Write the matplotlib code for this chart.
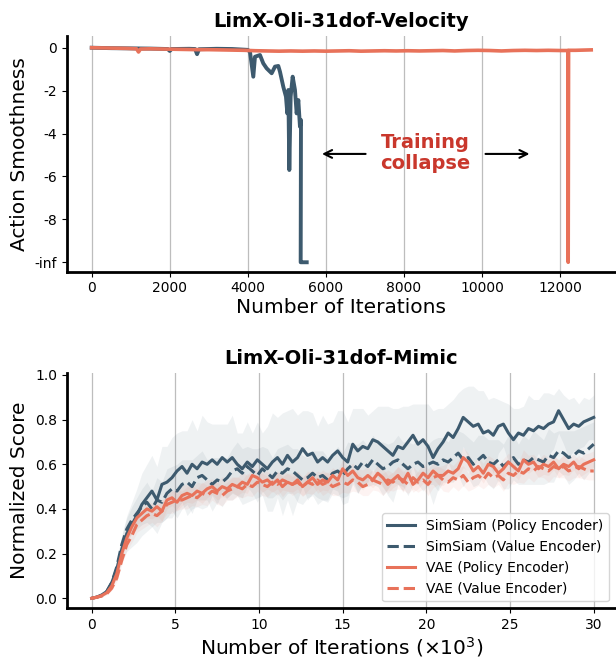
import numpy as np
import matplotlib
matplotlib.use("Agg")
import matplotlib.pyplot as plt

# colours
BLUE = "#3d5a6e"
ORANGE = "#e8725a"
RED_TXT = "#c9372c"

# ---- top panel: action smoothness (velocity task) ----
vel_ss_x = [0, 500, 1000, 1500, 1950, 2000, 2050, 2500, 2650, 2700, 2750, 3200, 3600, 4000,
            4056, 4141, 4184, 4312, 4397, 4483, 4612, 4697, 4782, 4825, 4910, 4978, 5013,
            5039, 5064, 5098, 5150, 5209, 5252, 5295, 5337, 5363, 5355, 5360, 5510]
vel_ss_y = [0.0, -0.02, -0.03, -0.04, -0.06, -0.15, -0.06, -0.05, -0.06, -0.3, -0.07, -0.05, -0.06, -0.1,
            -0.19, -1.35, -0.42, -0.34, -0.73, -0.96, -1.19, -0.88, -0.85, -1.12, -1.82, -2.28, -3.06,
            -1.97, -5.70, -2.28, -1.35, -1.97, -3.06, -2.44, -3.68, -3.37, -10, -10, -10]

vel_vae_x = [0, 300, 600, 900, 1150, 1200, 1250, 1500, 1800, 2100, 2400, 2700, 3000, 3300, 3600, 3900,
             4200, 4500, 4800, 5100, 5400, 5700, 6000, 6300, 6600, 6900, 7200, 7500, 7800, 8100,
             8400, 8700, 9000, 9300, 9600, 9900, 10200, 10500, 10800, 11100, 11400, 11700, 12000,
             12200, 12210, 12220, 12400, 12600, 12800]
vel_vae_y = [0.0, -0.01, -0.02, -0.03, -0.05, -0.2, -0.06, -0.05, -0.06, -0.07, -0.08, -0.09, -0.09, -0.1, -0.11, -0.12,
             -0.14, -0.15, -0.16, -0.15, -0.16, -0.15, -0.16, -0.15, -0.14, -0.16, -0.15, -0.14, -0.15, -0.14,
             -0.15, -0.14, -0.13, -0.15, -0.13, -0.12, -0.13, -0.15, -0.13, -0.12, -0.13, -0.12, -0.13,
             -0.13, -10, -0.12, -0.12, -0.11, -0.1]

vel_yticks = [0, -2, -4, -6, -8, -10]
vel_yticklabels = ["0", "-2", "-4", "-6", "-8", "-inf"]

# ---- bottom panel: normalized score (mimic task), iterations in 1e3 ----
iters = np.arange(101) * 0.3

ss_pol = [0.00, 0.005, 0.015, 0.03, 0.07, 0.13, 0.22, 0.29, 0.33, 0.37,
          0.42, 0.45, 0.48, 0.44, 0.51, 0.52, 0.54, 0.57, 0.59, 0.56,
          0.60, 0.58, 0.61, 0.60, 0.62, 0.60, 0.63, 0.61, 0.63, 0.60,
          0.58, 0.61, 0.59, 0.62, 0.60, 0.58, 0.61, 0.63, 0.60, 0.64,
          0.61, 0.63, 0.67, 0.64, 0.65, 0.61, 0.63, 0.61, 0.64, 0.66,
          0.63, 0.61, 0.69, 0.66, 0.68, 0.67, 0.71, 0.70, 0.68, 0.66,
          0.64, 0.68, 0.67, 0.70, 0.73, 0.69, 0.71, 0.68, 0.63, 0.67,
          0.70, 0.74, 0.72, 0.76, 0.81, 0.79, 0.77, 0.78, 0.74, 0.75,
          0.73, 0.77, 0.78, 0.74, 0.71, 0.74, 0.73, 0.76, 0.75, 0.77,
          0.76, 0.78, 0.79, 0.84, 0.80, 0.76, 0.78, 0.77, 0.79, 0.80, 0.81]
ss_val = [0.00, 0.005, 0.012, 0.03, 0.07, 0.14, 0.24, 0.31, 0.35, 0.38,
          0.41, 0.43, 0.40, 0.44, 0.43, 0.47, 0.49, 0.48, 0.51, 0.52,
          0.50, 0.54, 0.55, 0.53, 0.51, 0.53, 0.52, 0.54, 0.57, 0.58,
          0.56, 0.59, 0.57, 0.55, 0.58, 0.56, 0.54, 0.57, 0.56, 0.58,
          0.57, 0.55, 0.53, 0.54, 0.56, 0.54, 0.55, 0.53, 0.56, 0.57,
          0.55, 0.58, 0.60, 0.58, 0.61, 0.59, 0.62, 0.60, 0.58, 0.59,
          0.61, 0.62, 0.60, 0.58, 0.60, 0.61, 0.59, 0.60, 0.61, 0.60,
          0.62, 0.61, 0.63, 0.65, 0.62, 0.63, 0.60, 0.62, 0.64, 0.61,
          0.60, 0.62, 0.59, 0.61, 0.63, 0.60, 0.62, 0.61, 0.63, 0.62,
          0.61, 0.64, 0.63, 0.66, 0.65, 0.63, 0.64, 0.66, 0.65, 0.67, 0.69]
vae_pol = [0.00, 0.005, 0.012, 0.025, 0.055, 0.11, 0.20, 0.27, 0.32, 0.36,
           0.38, 0.40, 0.39, 0.41, 0.39, 0.44, 0.45, 0.43, 0.46, 0.47,
           0.46, 0.48, 0.47, 0.49, 0.50, 0.48, 0.50, 0.49, 0.51, 0.50,
           0.52, 0.51, 0.55, 0.54, 0.52, 0.53, 0.51, 0.53, 0.50, 0.52,
           0.51, 0.53, 0.50, 0.52, 0.54, 0.51, 0.53, 0.52, 0.55, 0.53,
           0.58, 0.55, 0.57, 0.54, 0.53, 0.55, 0.53, 0.56, 0.54, 0.51,
           0.53, 0.55, 0.52, 0.56, 0.51, 0.53, 0.56, 0.54, 0.57, 0.55,
           0.55, 0.57, 0.56, 0.58, 0.63, 0.61, 0.57, 0.59, 0.56, 0.60,
           0.59, 0.56, 0.58, 0.61, 0.59, 0.57, 0.62, 0.60, 0.61, 0.58,
           0.60, 0.59, 0.61, 0.58, 0.60, 0.59, 0.61, 0.58, 0.60, 0.61, 0.62]
vae_val = [0.00, 0.004, 0.01, 0.02, 0.045, 0.09, 0.17, 0.24, 0.28, 0.33,
           0.35, 0.37, 0.38, 0.37, 0.39, 0.42, 0.43, 0.44, 0.44, 0.45,
           0.46, 0.45, 0.47, 0.46, 0.48, 0.47, 0.46, 0.48, 0.49, 0.50,
           0.49, 0.51, 0.50, 0.52, 0.51, 0.50, 0.52, 0.51, 0.53, 0.52,
           0.51, 0.52, 0.50, 0.52, 0.51, 0.53, 0.51, 0.52, 0.50, 0.51,
           0.52, 0.51, 0.53, 0.52, 0.50, 0.51, 0.53, 0.52, 0.51, 0.53,
           0.52, 0.54, 0.53, 0.51, 0.54, 0.52, 0.53, 0.51, 0.54, 0.55,
           0.53, 0.52, 0.54, 0.53, 0.55, 0.52, 0.54, 0.55, 0.53, 0.56,
           0.54, 0.55, 0.53, 0.56, 0.55, 0.57, 0.56, 0.58, 0.57, 0.59,
           0.58, 0.57, 0.59, 0.58, 0.59, 0.57, 0.58, 0.59, 0.58, 0.57, 0.57]

# band half-widths
ss_pol_sd = [0.0, 0.003, 0.006, 0.01, 0.02, 0.04, 0.06, 0.08, 0.10, 0.12,
             0.14, 0.15, 0.16, 0.15, 0.17, 0.16, 0.18, 0.17, 0.16, 0.19,
             0.20, 0.17, 0.21, 0.19, 0.16, 0.18, 0.15, 0.17, 0.19, 0.14,
             0.16, 0.18, 0.15, 0.17, 0.14, 0.19, 0.22, 0.18, 0.23, 0.20,
             0.24, 0.19, 0.17, 0.20, 0.18, 0.16, 0.19, 0.17, 0.15, 0.18,
             0.21, 0.18, 0.16, 0.19, 0.17, 0.15, 0.13, 0.16, 0.18, 0.20,
             0.21, 0.17, 0.19, 0.16, 0.14, 0.18, 0.16, 0.19, 0.21, 0.18,
             0.15, 0.13, 0.17, 0.16, 0.13, 0.16, 0.18, 0.15, 0.19, 0.14,
             0.17, 0.12, 0.10, 0.13, 0.14, 0.11, 0.13, 0.15, 0.14, 0.12,
             0.16, 0.14, 0.12, 0.10, 0.11, 0.13, 0.12, 0.10, 0.11, 0.09, 0.10]
ss_val_sd = [0.0, 0.003, 0.005, 0.01, 0.02, 0.03, 0.04, 0.05, 0.06, 0.07,
             0.08, 0.09, 0.08, 0.10, 0.09, 0.11, 0.10, 0.12, 0.11, 0.10,
             0.12, 0.10, 0.11, 0.09, 0.12, 0.10, 0.11, 0.09, 0.10, 0.12,
             0.11, 0.09, 0.10, 0.12, 0.10, 0.11, 0.09, 0.10, 0.12, 0.11,
             0.10, 0.12, 0.11, 0.09, 0.10, 0.12, 0.11, 0.10, 0.09, 0.11,
             0.10, 0.12, 0.09, 0.11, 0.10, 0.09, 0.11, 0.10, 0.12, 0.10,
             0.09, 0.11, 0.10, 0.12, 0.09, 0.10, 0.11, 0.09, 0.10, 0.12,
             0.10, 0.09, 0.11, 0.10, 0.12, 0.09, 0.10, 0.11, 0.09, 0.10,
             0.11, 0.09, 0.10, 0.12, 0.10, 0.09, 0.11, 0.10, 0.12, 0.11,
             0.10, 0.12, 0.11, 0.09, 0.10, 0.12, 0.11, 0.10, 0.12, 0.11, 0.10]
vae_pol_sd = [0.0, 0.002, 0.004, 0.006, 0.01, 0.015, 0.02, 0.025, 0.03, 0.03,
              0.035, 0.04, 0.035, 0.04, 0.045, 0.04, 0.035, 0.04, 0.045, 0.04,
              0.035, 0.04, 0.045, 0.04, 0.035, 0.04, 0.045, 0.04, 0.035, 0.04,
              0.045, 0.04, 0.035, 0.04, 0.045, 0.04, 0.035, 0.04, 0.045, 0.04,
              0.035, 0.04, 0.045, 0.04, 0.035, 0.04, 0.045, 0.04, 0.035, 0.04,
              0.045, 0.04, 0.035, 0.04, 0.045, 0.04, 0.035, 0.04, 0.045, 0.04,
              0.035, 0.04, 0.045, 0.04, 0.035, 0.04, 0.045, 0.04, 0.035, 0.04,
              0.045, 0.04, 0.035, 0.04, 0.045, 0.04, 0.035, 0.04, 0.045, 0.04,
              0.035, 0.04, 0.045, 0.04, 0.035, 0.04, 0.045, 0.04, 0.035, 0.04,
              0.045, 0.04, 0.035, 0.04, 0.045, 0.04, 0.035, 0.04, 0.045, 0.04, 0.04]
vae_val_sd = [0.0, 0.002, 0.004, 0.006, 0.01, 0.015, 0.02, 0.025, 0.03, 0.035,
              0.04, 0.045, 0.04, 0.05, 0.045, 0.04, 0.05, 0.045, 0.04, 0.05,
              0.045, 0.04, 0.05, 0.045, 0.04, 0.05, 0.045, 0.04, 0.05, 0.045,
              0.04, 0.05, 0.045, 0.04, 0.05, 0.045, 0.04, 0.05, 0.045, 0.04,
              0.05, 0.045, 0.04, 0.05, 0.045, 0.04, 0.05, 0.045, 0.04, 0.05,
              0.045, 0.04, 0.05, 0.045, 0.04, 0.05, 0.045, 0.04, 0.05, 0.045,
              0.04, 0.05, 0.045, 0.04, 0.05, 0.045, 0.04, 0.05, 0.045, 0.04,
              0.05, 0.045, 0.04, 0.05, 0.045, 0.04, 0.05, 0.045, 0.04, 0.05,
              0.045, 0.04, 0.05, 0.045, 0.04, 0.05, 0.045, 0.04, 0.05, 0.045,
              0.04, 0.05, 0.045, 0.04, 0.05, 0.045, 0.04, 0.05, 0.045, 0.04, 0.04]

mimic_series = [
    ("SimSiam (Policy Encoder)", ss_pol, ss_pol_sd, BLUE, "-"),
    ("SimSiam (Value Encoder)", ss_val, ss_val_sd, BLUE, "--"),
    ("VAE (Policy Encoder)", vae_pol, vae_pol_sd, ORANGE, "-"),
    ("VAE (Value Encoder)", vae_val, vae_val_sd, ORANGE, "--"),
]


def style_axes(ax):
    for s in ["top", "right"]:
        ax.spines[s].set_visible(False)
    for s in ["left", "bottom"]:
        ax.spines[s].set_linewidth(2.0)
    ax.grid(axis="x", color="#bdbdbd", linewidth=0.9)
    ax.set_axisbelow(True)
    ax.tick_params(labelsize=10)


fig = plt.figure(figsize=(6.16, 6.59), dpi=100)

# top
ax1 = fig.add_axes([0.1083, 0.5877, 0.8917, 0.3581])
style_axes(ax1)
ax1.plot(vel_ss_x, vel_ss_y, color=BLUE, lw=2.8, solid_joinstyle="round")
ax1.plot(vel_vae_x, vel_vae_y, color=ORANGE, lw=2.6, solid_joinstyle="round")
ax1.set_xlim(-640, 13435)
ax1.set_ylim(-10.44, 0.56)
ax1.set_xticks(range(0, 12001, 2000))
ax1.set_yticks(vel_yticks)
ax1.set_yticklabels(vel_yticklabels)
ax1.set_xlabel("Number of Iterations", fontsize=14.5, labelpad=2)
ax1.set_ylabel("Action Smoothness", fontsize=14.5)
ax1.set_title("LimX-Oli-31dof-Velocity", fontsize=14, fontweight="bold")
ax1.text(8550, -4.9, "Training\ncollapse", color=RED_TXT, fontsize=14, fontweight="bold",
         ha="center", va="center", linespacing=1.1)
arrow = dict(arrowstyle="->", lw=1.5, color="black", mutation_scale=14)
ax1.annotate("", xy=(5830, -4.95), xytext=(7090, -4.95), arrowprops=arrow)
ax1.annotate("", xy=(11290, -4.95), xytext=(10020, -4.95), arrowprops=arrow)

# bottom
ax2 = fig.add_axes([0.1083, 0.0769, 0.8917, 0.3575])
style_axes(ax2)
for label, mean, sd, col, ls in mimic_series:
    m = np.array(mean)
    s = np.array(sd)
    ax2.fill_between(iters, m - s, m + s, color=col, alpha=0.08, linewidth=0)
for label, mean, sd, col, ls in mimic_series:
    ax2.plot(iters, mean, color=col, ls=ls, lw=2.2, label=label)
ax2.set_xlim(-1.49, 31.33)
ax2.set_ylim(-0.045, 1.01)
ax2.set_xticks(range(0, 31, 5))
ax2.set_yticks([0.0, 0.2, 0.4, 0.6, 0.8, 1.0])
ax2.set_xlabel(r"Number of Iterations ($\times10^3$)", fontsize=14.5, labelpad=2)
ax2.set_ylabel("Normalized Score", fontsize=14.5)
ax2.set_title("LimX-Oli-31dof-Mimic", fontsize=14, fontweight="bold")
ax2.legend(loc="lower right", fontsize=10)

fig.savefig("out.png", dpi=100)
